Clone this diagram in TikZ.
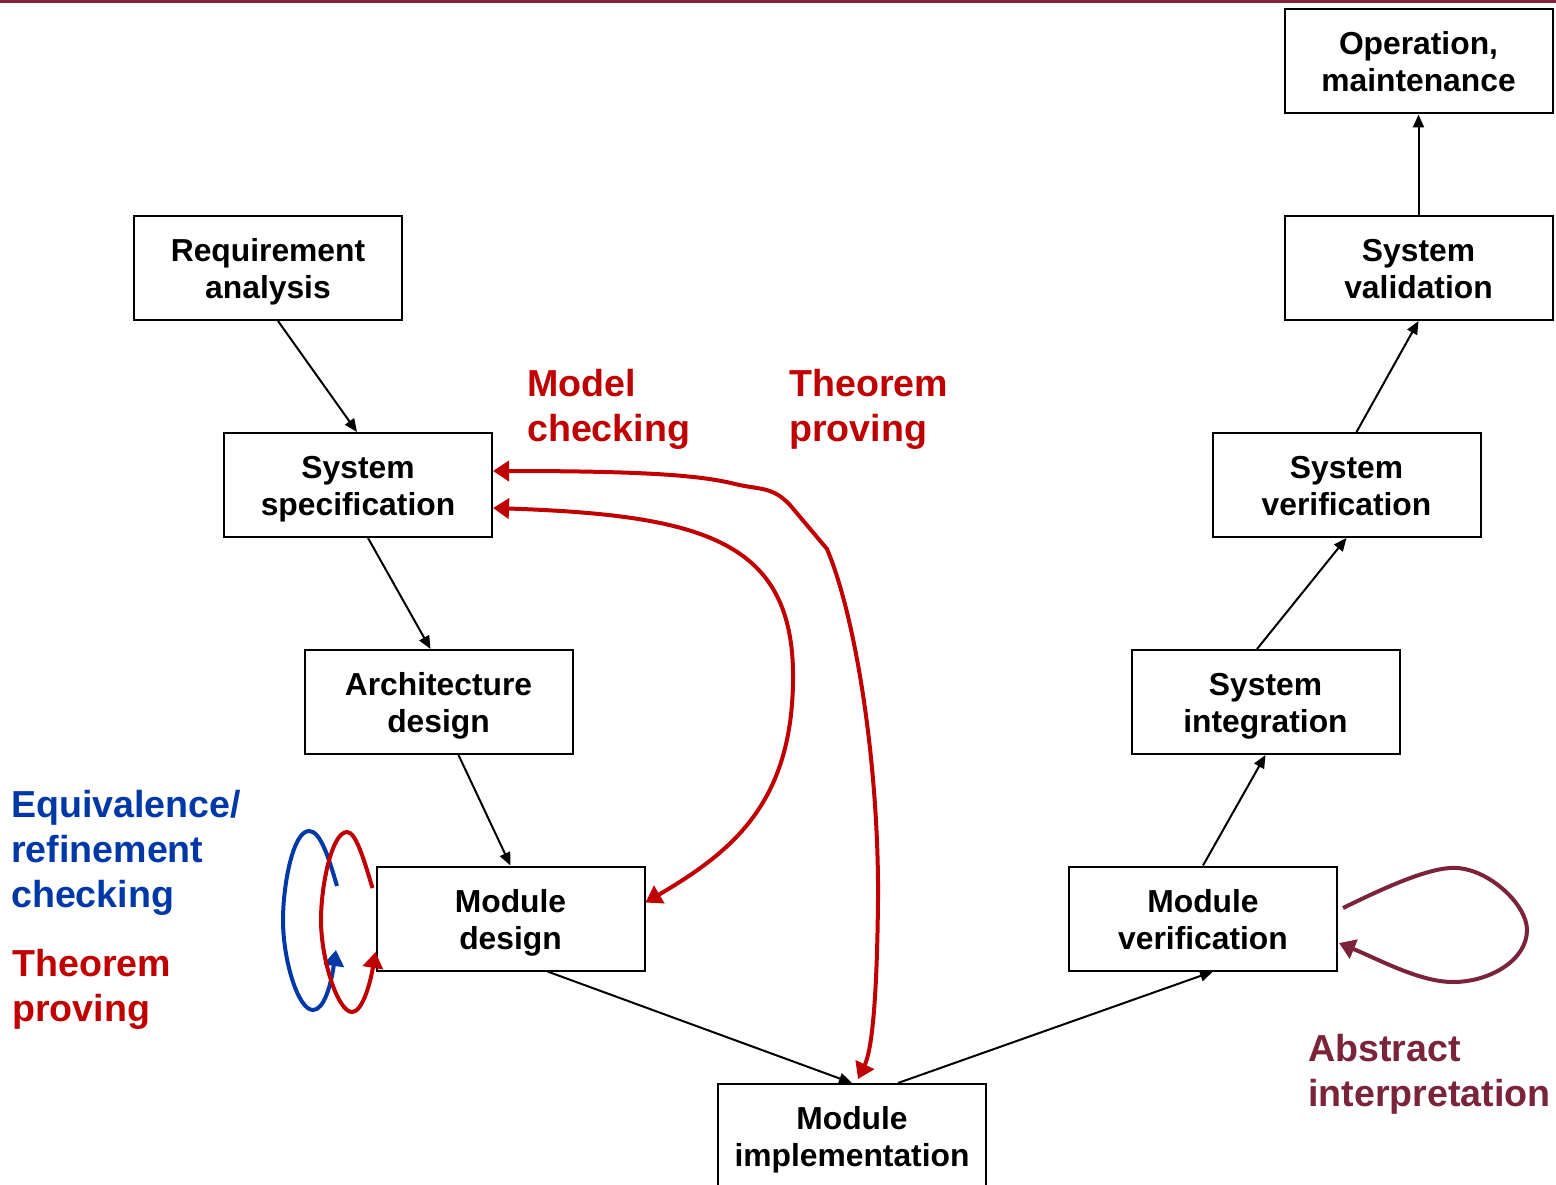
\documentclass[tikz,border=0pt]{standalone}
\usepackage{fontspec}
\setmainfont{Liberation Sans}
\usetikzlibrary{arrows.meta}
\definecolor{tred}{HTML}{C00000}
\definecolor{tblue}{HTML}{0038A8}
\definecolor{tmaroon}{HTML}{7A2339}
\definecolor{topbar}{HTML}{822435}
\newcommand{\stagetext}[2]{\rule{0pt}{31pt}#1\\#2\rule[-7pt]{0pt}{7pt}}
\begin{document}
\begin{tikzpicture}[x=1pt,y=-1pt,
 stagebox/.style={draw=black, line width=2pt, minimum width=268pt, minimum height=104pt, align=center, inner sep=0pt, font=\fontsize{31.8}{37}\selectfont\bfseries, fill=white},
 flow/.style={line width=2pt, -{Triangle[length=13pt,width=11pt]}},
 method/.style={line width=4pt, {Triangle[length=16pt,width=20pt]}-{Triangle[length=16pt,width=20pt]}},
 selfloop/.style={line width=4pt, -{Triangle[length=16pt,width=20pt]}},
 lbl/.style={anchor=north west, inner sep=0pt, align=left, font=\fontsize{37.6}{45}\selectfont\bfseries}
]
\useasboundingbox (0,0) rectangle (1556,1185);
\fill[topbar] (0,0) rectangle (1556,3);

% stages
\node[stagebox] (req)   at (268,268)    {\stagetext{Requirement}{analysis}};
\node[stagebox] (spec)  at (358,485)    {\stagetext{System}{specification}};
\node[stagebox] (arch)  at (438.5,702)  {\stagetext{Architecture}{design}};
\node[stagebox] (mdes)  at (510.5,918.5){\stagetext{Module}{design}};
\node[stagebox] (mimpl) at (852,1136)   {\stagetext{Module}{implementation}};
\node[stagebox] (mver)  at (1203,918.5) {\stagetext{Module}{verification}};
\node[stagebox] (sint)  at (1265.5,702) {\stagetext{System}{integration}};
\node[stagebox] (sver)  at (1346.5,485) {\stagetext{System}{verification}};
\node[stagebox] (sval)  at (1418.5,268) {\stagetext{System}{validation}};
\node[stagebox] (oper)  at (1418.5,61.5){\stagetext{Operation,}{maintenance}};

% V-model flow
\draw[flow] ([xshift=10pt]req.south) -- ([xshift=-1pt]spec.north);
\draw[flow] ([xshift=10pt]spec.south) -- ([xshift=-8pt]arch.north);
\draw[flow] ([xshift=20pt]arch.south) -- (mdes.north);
\draw[flow] ([xshift=37pt]mdes.south) -- (mimpl.north);
\draw[flow] ([xshift=46pt]mimpl.north) -- ([xshift=10pt]mver.south);
\draw[flow] (mver.north) -- (sint.south);
\draw[flow] ([xshift=-8.5pt]sint.north) -- (sver.south);
\draw[flow] ([xshift=10pt]sver.north) -- (sval.south);
\draw[flow] (sval.north) -- (oper.south);

% model checking
\draw[method, tred] ([yshift=-23pt]spec.east) .. controls (700,515) and (790,540) .. (793,670)
   .. controls (795,800) and (735,850) .. ([yshift=16pt]mdes.east);
% theorem proving
\draw[method, tred] ([yshift=14pt]spec.east) .. controls (640,471) and (700,475) .. (735,484)
   .. controls (760,490) and (772,486) .. (790,505) -- (827,549)
   .. controls (857,620) and (879,770) .. (878,900)
   .. controls (877,1000) and (872,1050) .. ([xshift=6pt,yshift=4pt]mimpl.north);

% equivalence / refinement loop (blue)
\coordinate (bstart) at (337,886);
\coordinate (bend) at (336,950);
\draw[selfloop, tblue] (bstart) .. controls (328,855) and (320,831) .. (309,831)
   .. controls (293,831) and (283,885) .. (283,920)
   .. controls (283,960) and (298,1010) .. (313,1010)
   .. controls (324,1010) and (331,985) .. (bend);
% theorem proving loop (red)
\draw[selfloop, tred] ([xshift=-3pt,yshift=30.5pt]mdes.west) .. controls (364,860) and (356,832) .. (347,832)
   .. controls (332,832) and (321,885) .. (321,920)
   .. controls (321,960) and (338,1012) .. (352,1012)
   .. controls (362,1012) and (370,985) .. ([yshift=-33.5pt]mdes.west);
% abstract interpretation loop
\draw[selfloop, tmaroon] ([xshift=5pt,yshift=10.5pt]mver.east) .. controls (1380,890) and (1430,866) .. (1457,868)
   .. controls (1490,870) and (1527,905) .. (1527,930)
   .. controls (1527,960) and (1490,982) .. (1453,982)
   .. controls (1420,982) and (1380,960) .. ([xshift=1pt,yshift=-24.5pt]mver.east);

% labels
\node[lbl, tred] (lmc) at (527,369) {Model\\checking};
\node[lbl, tred] (ltp) at (789,369) {Theorem\\proving};
\node[lbl, tblue] (leq) at (11,790) {Equivalence/\\refinement\\checking};
\node[lbl, tred] (ltp2) at (12,949) {Theorem\\proving};
\node[lbl, tmaroon] (lai) at (1308,1034) {Abstract\\interpretation};
\end{tikzpicture}
\end{document}
